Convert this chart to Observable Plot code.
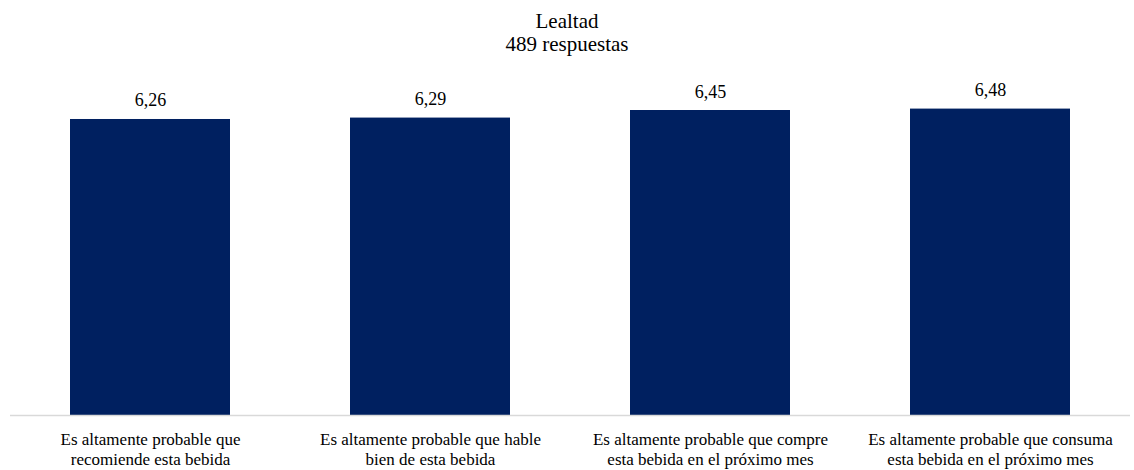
<!DOCTYPE html>
<html>
<head>
<meta charset="utf-8">
<script src="https://cdn.jsdelivr.net/npm/d3@7"></script>
<script src="https://cdn.jsdelivr.net/npm/@observablehq/plot@0.6"></script>
<style>
  html, body { margin: 0; padding: 0; background: #fff; }
  #wrap { width: 1134px; height: 470px; position: relative; font-family: "Liberation Serif", "Times New Roman", Times, Tinos, "DejaVu Serif", serif; }
  #title { box-sizing: border-box; height: 57px; padding-top: 10px; text-align: center; font-size: 21px; line-height: 23px; color: #000; overflow: visible; }
  #chart svg { display: block; }
</style>
</head>
<body>
<div id="wrap">
  <div id="title">Lealtad<br>489 respuestas</div>
  <div id="chart"></div>
</div>
<script>
const categories = [
  "Es altamente probable que\nrecomiende esta bebida",
  "Es altamente probable que hable\nbien de esta bebida",
  "Es altamente probable que compre\nesta bebida en el próximo mes",
  "Es altamente probable que consuma\nesta bebida en el próximo mes"
];
const values = [6.26, 6.29, 6.45, 6.48];

const data = categories.map((c, i) => ({category: c, value: values[i]}));
const fmt = v => d3.format(".2f")(v).replace(".", ",");
const serif = "\"Liberation Serif\", \"Times New Roman\", Times, Tinos, \"DejaVu Serif\", serif";

const chart = Plot.plot({
  width: 1134,
  height: 413,
  marginTop: 27,
  marginBottom: 55,
  marginLeft: 10,
  marginRight: 4,
  style: {fontFamily: serif, color: "#000", background: "#fff"},
  x: {domain: categories, paddingInner: 0.4286, paddingOuter: 0.2143, label: null},
  y: {domain: [0, 7], axis: null},
  marks: [
    Plot.barY(data, {x: "category", y: "value", fill: "#002060"}),
    Plot.ruleY([0], {stroke: "#d9d9d9", strokeWidth: 1.5}),
    Plot.text(data, {x: "category", y: "value", text: d => fmt(d.value), lineAnchor: "bottom", dy: -13, fontSize: 18, fontFamily: serif, fill: "#000"}),
    Plot.axisX({tickSize: 0, tickPadding: 15, fontSize: 17, fontFamily: serif, lineHeight: 20/17, label: null, fill: "#000"})
  ]
});
document.getElementById("chart").appendChild(chart);
</script>
</body>
</html>
